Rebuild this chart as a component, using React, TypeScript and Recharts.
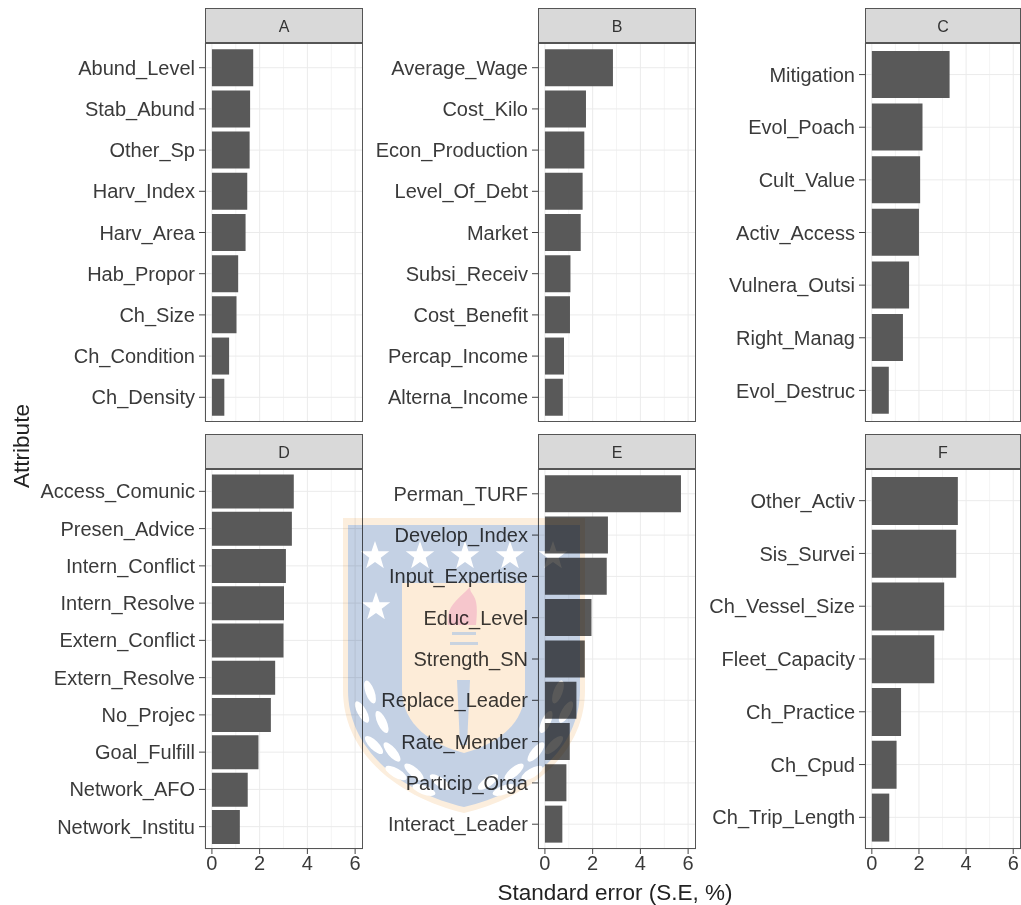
import React from 'react';
import { BarChart, Bar, XAxis, YAxis, CartesianGrid } from 'recharts';

const namesA = ['Abund_Level', 'Stab_Abund', 'Other_Sp', 'Harv_Index', 'Harv_Area', 'Hab_Propor', 'Ch_Size', 'Ch_Condition', 'Ch_Density'];
const valuesA = [1.73, 1.6, 1.58, 1.48, 1.41, 1.1, 1.03, 0.72, 0.52];

const namesB = ['Average_Wage', 'Cost_Kilo', 'Econ_Production', 'Level_Of_Debt', 'Market', 'Subsi_Receiv', 'Cost_Benefit', 'Percap_Income', 'Alterna_Income'];
const valuesB = [2.85, 1.72, 1.65, 1.58, 1.5, 1.07, 1.05, 0.8, 0.75];

const namesC = ['Mitigation', 'Evol_Poach', 'Cult_Value', 'Activ_Access', 'Vulnera_Outsi', 'Right_Manag', 'Evol_Destruc'];
const valuesC = [3.3, 2.15, 2.05, 2.0, 1.58, 1.32, 0.72];

const namesD = ['Access_Comunic', 'Presen_Advice', 'Intern_Conflict', 'Intern_Resolve', 'Extern_Conflict', 'Extern_Resolve', 'No_Projec', 'Goal_Fulfill', 'Network_AFO', 'Network_Institu'];
const valuesD = [3.43, 3.35, 3.1, 3.02, 3.0, 2.65, 2.47, 1.95, 1.5, 1.17];

const namesE = ['Perman_TURF', 'Develop_Index', 'Input_Expertise', 'Educ_Level', 'Strength_SN', 'Replace_Leader', 'Rate_Member', 'Particip_Orga', 'Interact_Leader'];
const valuesE = [5.7, 2.64, 2.59, 1.95, 1.67, 1.32, 1.04, 0.9, 0.73];

const namesF = ['Other_Activ', 'Sis_Survei', 'Ch_Vessel_Size', 'Fleet_Capacity', 'Ch_Practice', 'Ch_Cpud', 'Ch_Trip_Length'];
const valuesF = [3.65, 3.58, 3.07, 2.65, 1.24, 1.05, 0.74];

const xTicks = [0, 2, 4, 6];
const xMinor = [1, 3, 5];

const FONT = '"Liberation Sans", Arial, sans-serif';
const TEXT = '#3a3a3a';
const LABEL_W = 170;
const AXIS_H = 34;

interface PanelProps {
  title: string;
  names: string[];
  values: number[];
  left: number;
  top: number;
  width: number;
  height: number;
  showX?: boolean;
}

// one facet: strip on top, bar chart below, border drawn over it
function Panel({ title, names, values, left, top, width, height, showX = false }: PanelProps) {
  const rows = names.map((name, i) => ({ name, value: values[i] }));
  const pad = (height / (names.length + 0.2)) * 0.1;

  return (
    <>
      <div
        style={{
          position: 'absolute', left, top: top - 35, width, height: 35, boxSizing: 'border-box',
          background: '#d9d9d9', border: '1px solid #555', textAlign: 'center',
          font: `16px ${FONT}`, lineHeight: '36px', color: '#333',
        }}
      >
        {title}
      </div>
      <div style={{ position: 'absolute', left: left - LABEL_W, top }}>
        <BarChart
          width={width + LABEL_W}
          height={height + (showX ? AXIS_H : 0)}
          data={rows}
          layout="vertical"
          barCategoryGap="5%"
          margin={{ top: 0, right: 0, bottom: 0, left: 0 }}
        >
          <CartesianGrid stroke="#f4f4f4" horizontal={false} verticalValues={xMinor} />
          <CartesianGrid stroke="#ebebeb" />
          <XAxis
            type="number"
            domain={[-0.29, 6.33]}
            allowDataOverflow
            ticks={xTicks}
            hide={!showX}
            height={AXIS_H}
            axisLine={false}
            tickSize={5}
            tickLine={{ stroke: '#444' }}
            tickMargin={2}
            tick={{ fontSize: 20, fontFamily: FONT, fill: TEXT }}
          />
          <YAxis
            type="category"
            dataKey="name"
            width={LABEL_W}
            interval={0}
            padding={{ top: pad, bottom: pad }}
            axisLine={false}
            tickSize={6}
            tickLine={{ stroke: '#444' }}
            tickMargin={4}
            tick={{ fontSize: 20, fontFamily: FONT, fill: TEXT }}
          />
          <Bar dataKey="value" fill="#595959" isAnimationActive={false} />
        </BarChart>
      </div>
      <div
        style={{
          position: 'absolute', left, top, width, height, boxSizing: 'border-box',
          border: '1px solid #555', pointerEvents: 'none',
        }}
      />
    </>
  );
}

const Star = ({ x, y, r }: { x: number; y: number; r: number }) => {
  const pts = Array.from({ length: 10 }, (_, i) => {
    const a = -Math.PI / 2 + (i * Math.PI) / 5;
    const d = i % 2 === 0 ? r : r * 0.4;
    return `${x + d * Math.cos(a)},${y + d * Math.sin(a)}`;
  }).join(' ');
  return <polygon points={pts} fill="#fff" />;
};

const crestStars = [[375, 556], [420, 556], [465, 556], [510, 556], [553, 556], [376, 607]];
const crestLeaves = [[370, 692, 70], [362, 712, 60], [382, 722, 65], [374, 745, 45], [392, 752, 50], [396, 773, 30], [414, 772, 40], [424, 790, 20], [440, 782, 35]];

// faint university crest that sits over the middle of the figure
function Crest() {
  return (
    <svg
      width={1021}
      height={905}
      style={{ position: 'absolute', left: 0, top: 0, mixBlendMode: 'multiply', pointerEvents: 'none' }}
    >
      <path d="M343 518 H585 V690 C585 760 520 800 464 813 C408 800 343 760 343 690 Z" fill="#fceedd" />
      <path d="M348 525 H580 V690 C580 755 518 795 464 807 C410 795 348 755 348 690 Z" fill="#c4d1e4" />
      <path d="M402 583 H525 V690 C525 725 495 745 464 753 C433 745 402 725 402 690 Z" fill="#fdecd8" />
      {crestStars.map(([x, y]) => (
        <Star key={`${x}-${y}`} x={x} y={y} r={15} />
      ))}
      <path d="M448 625 C446 605 458 600 470 587 C470 597 480 592 476 625 Z" fill="#f6c6cc" />
      <rect x={452} y={632} width={24} height={3} fill="#c9d3e0" />
      <rect x={450} y={642} width={28} height={3} fill="#c9d3e0" />
      <path d="M457 680 H470 L467 745 H460 Z" fill="#c4d1e4" />
      {crestLeaves.map(([x, y, a]) => (
        <g key={`${x}-${y}`}>
          <ellipse cx={x} cy={y} rx={12} ry={4.5} fill="#fff" transform={`rotate(${a} ${x} ${y})`} />
          <ellipse cx={928 - x} cy={y} rx={12} ry={4.5} fill="#fff" transform={`rotate(${-a} ${928 - x} ${y})`} />
        </g>
      ))}
    </svg>
  );
}

export default function App() {
  return (
    <div style={{ position: 'absolute', left: 0, top: 0, width: 1021, height: 905, overflow: 'hidden', background: '#fff' }}>
      <Panel title="A" names={namesA} values={valuesA} left={205} top={43} width={158} height={379} />
      <Panel title="B" names={namesB} values={valuesB} left={538} top={43} width={158} height={379} />
      <Panel title="C" names={namesC} values={valuesC} left={865} top={43} width={156} height={379} />
      <Panel title="D" names={namesD} values={valuesD} left={205} top={469} width={158} height={380} showX />
      <Panel title="E" names={namesE} values={valuesE} left={538} top={469} width={158} height={380} showX />
      <Panel title="F" names={namesF} values={valuesF} left={865} top={469} width={156} height={380} showX />
      <div style={{ position: 'absolute', left: 415, width: 400, top: 880, textAlign: 'center', font: `22.5px ${FONT}`, color: '#222' }}>
        Standard error (S.E, %)
      </div>
      <div
        style={{
          position: 'absolute', left: 22, top: 446, font: `22.5px ${FONT}`, color: '#222',
          transform: 'translate(-50%, -50%) rotate(-90deg)', whiteSpace: 'nowrap',
        }}
      >
        Attribute
      </div>
      <Crest />
    </div>
  );
}
